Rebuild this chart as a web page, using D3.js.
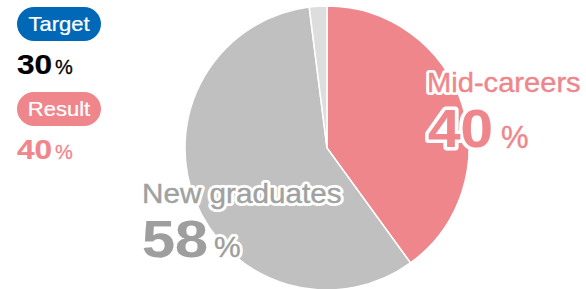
<!DOCTYPE html>
<html>
<head>
<meta charset="utf-8">
<script src="https://cdn.jsdelivr.net/npm/d3@7"></script>
<style>
  body { margin: 0; background: #fff; }
  text { font-family: "Liberation Sans", Arial, sans-serif; }
</style>
</head>
<body>
<div id="chart-area"></div>
<script>
const WIDTH = 586
const HEIGHT = 289

// data
const categories = ["Mid-careers", "New graduates", "Other"]
const shares = [40, 58, 2]
const sliceColors = ["#ef868c", "#bfc0bf", "#dcdddc"]
const badgeLabels = ["Target", "Result"]
const badgeValues = [30, 40]

const svg = d3.select("#chart-area").append("svg")
  .attr("width", WIDTH)
  .attr("height", HEIGHT)

// pie
const CX = 327, CY = 148, R = 142
const pie = d3.pie().sort(null).value(d => d.value)
const arc = d3.arc().innerRadius(0).outerRadius(R)
const slices = categories.map((c, i) => ({ name: c, value: shares[i], color: sliceColors[i] }))

svg.append("g")
  .attr("transform", `translate(${CX}, ${CY})`)
  .selectAll("path")
  .data(pie(slices))
  .enter().append("path")
  .attr("d", arc)
  .attr("fill", d => d.data.color)
  .attr("stroke", "#fff")
  .attr("stroke-width", 1.5)

// text helper: wide-ish type, optional white halo
function txt(x, y, str, o) {
  const g = svg.append("g")
    .attr("transform", `translate(${x}, ${y}) scale(${o.sx || 1}, 1)`)
  const make = () => g.append("text")
    .attr("text-anchor", o.anchor || "start")
    .attr("font-size", o.size + "px")
    .attr("font-weight", o.bold ? "bold" : "normal")
    .text(str)
  if (o.halo) {
    make().attr("fill", "#fff").attr("stroke", "#fff")
      .attr("stroke-width", o.halo).attr("stroke-linejoin", "round")
  }
  make().attr("fill", o.fill)
    .attr("stroke", o.fill)
    .attr("stroke-width", o.bold ? 0.2 : (o.thick || 0.4))
}

// slice labels
txt(427, 92, categories[0], { size: 28, sx: 1.04, fill: "#ef868c", halo: 6 })
txt(428, 147, shares[0], { size: 54, sx: 1.08, bold: true, fill: "#ef868c", halo: 7 })
txt(501, 148, "%", { size: 31, fill: "#ef868c", halo: 6 })

txt(142, 203, categories[1], { size: 28, sx: 1.06, fill: "#a0a1a0", halo: 6 })
txt(142, 257, shares[1], { size: 52, sx: 1.14, bold: true, fill: "#9d9e9d", halo: 7 })
txt(214, 257, "%", { size: 30, fill: "#9d9e9d", halo: 6 })

// legend badges
const badgeTops = [7, 92]
const badgeColors = ["#0068b7", "#ef868c"]
const valueColors = ["#000", "#ef868c"]
badgeLabels.forEach((lab, i) => {
  const y = badgeTops[i]
  svg.append("rect")
    .attr("x", 17).attr("y", y)
    .attr("width", 84).attr("height", 34)
    .attr("rx", 17)
    .attr("fill", badgeColors[i])
  txt(59, y + 24, lab, { size: 20, sx: 1.1, anchor: "middle", fill: "#fff", thick: 0.25 })
  txt(17, y + 67, badgeValues[i], { size: 28, sx: 1.13, bold: true, fill: valueColors[i] })
  txt(55, y + 67, "%", { size: 20, fill: valueColors[i], thick: 0.3 })
})
</script>
</body>
</html>
